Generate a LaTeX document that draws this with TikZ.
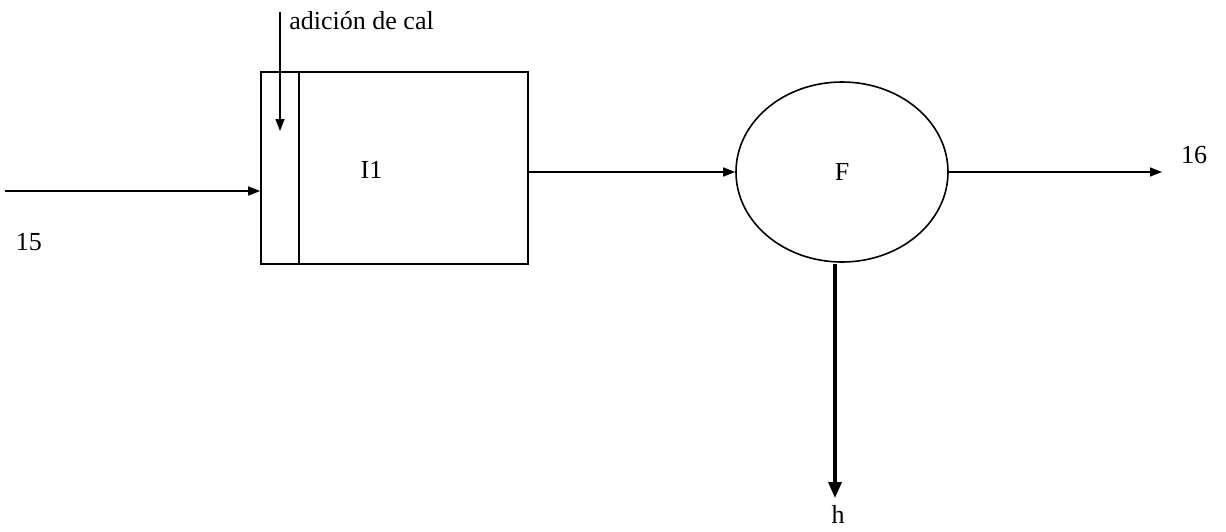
\documentclass[tikz,border=0pt]{standalone}
\usepackage{fontspec}
\setmainfont{Liberation Serif}
\usepackage{tikz}
\usetikzlibrary{positioning,arrows.meta,shapes.geometric}

\begin{document}
\begin{tikzpicture}[
  x=0.5pt,
  y=-0.5pt,
  every node/.style={
    font=\fontsize{13}{15}\selectfont,
    inner sep=0pt
  },
  unitbox/.style={
    draw,
    line width=.8pt,
    minimum height=96pt
  },
  flow/.style={
    -{Triangle[length=6pt,width=4.5pt]},
    line width=.7pt
  },
  heavyflow/.style={
    -{Triangle[length=8pt,width=6.5pt]},
    line width=1.7pt
  }
]

\useasboundingbox (0,0) rectangle (1226,531);

\node[
  unitbox,
  minimum width=19pt
] (mix) at (280,168)
{};

\node[
  unitbox,
  minimum width=114.5pt,
  label={[xshift=-21pt,yshift=-1pt]center:I1}
] (tank) at (413.5,168)
{};

\node[
  draw,
  ellipse,
  line width=.8pt,
  minimum width=106pt,
  minimum height=90pt
] (f) at (842,172)
{F};

\coordinate (in) at (5,191);
\coordinate (cal) at (280,12);
\coordinate (out) at (1162,172);
\coordinate (hend) at (835,498);

\node[anchor=west] (caltxt) at (289,21) {adición de cal};
\node (s15) at (29,242) {15};
\node (s16) at (1194,155) {16};
\node (sh) at (838,514) {h};

\draw[flow] (in) -- (mix.west |- in);
\draw[flow] (cal) -- (280,131);
\draw[flow] (tank.east |- f) -- (f.west);
\draw[flow] (f.east) -- (out);
\draw[heavyflow] (835,264) -- (hend);

\end{tikzpicture}
\end{document}
